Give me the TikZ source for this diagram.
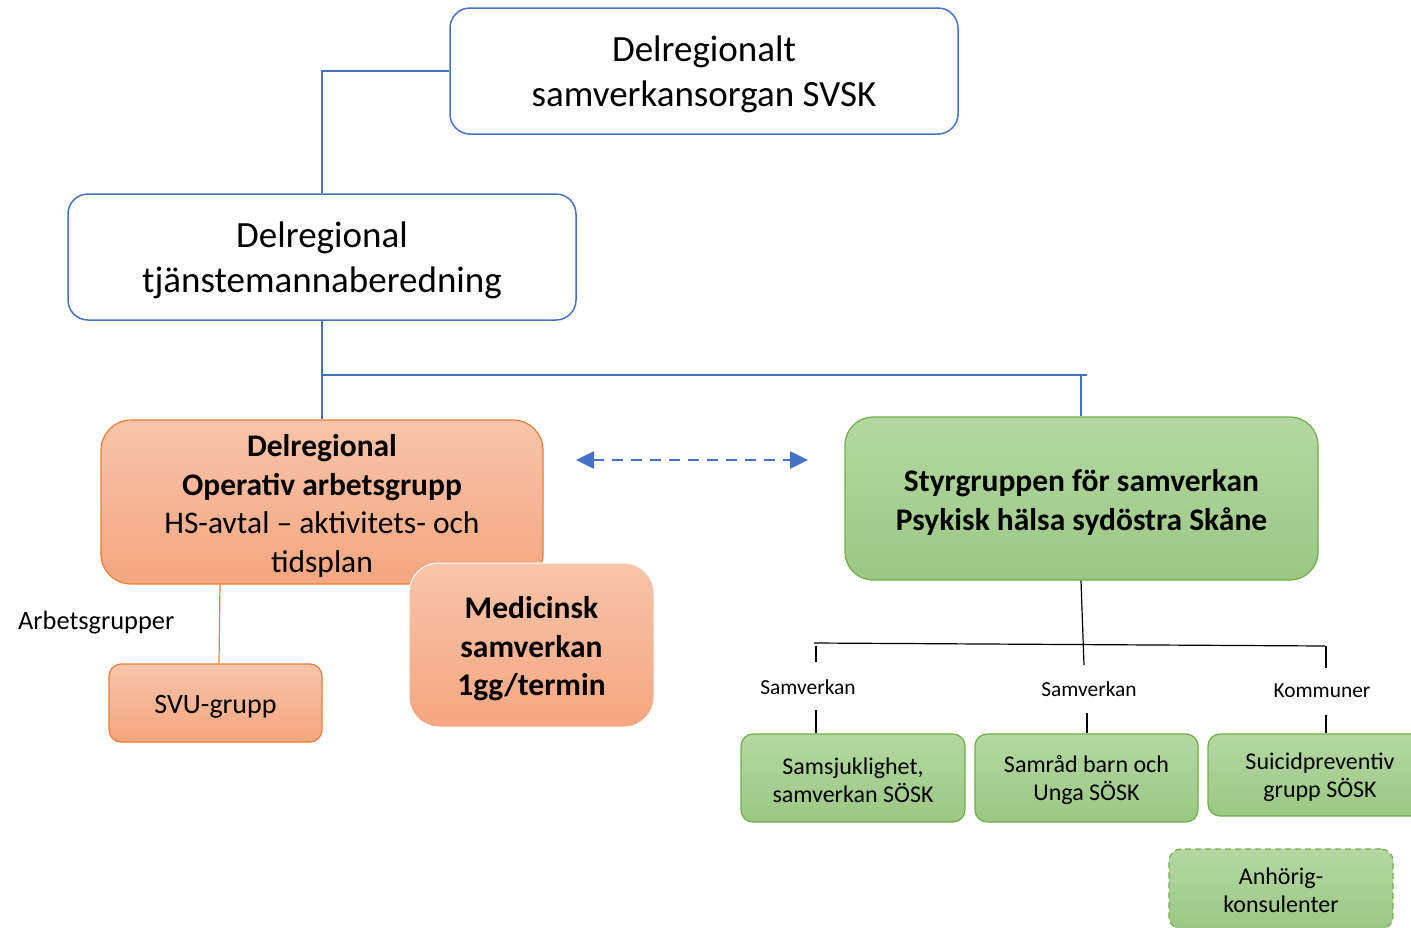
\documentclass[tikz,border=0pt]{standalone}
\usepackage{fontspec}
\setmainfont{Carlito}
\usetikzlibrary{arrows.meta}
\definecolor{blueline}{HTML}{4472C4}
\definecolor{orangeline}{HTML}{ED7D31}
\definecolor{orangetop}{HTML}{F7C4AA}
\definecolor{orangebot}{HTML}{F4A680}
\definecolor{greenline}{HTML}{70AD47}
\definecolor{greentop}{HTML}{B5D7A3}
\definecolor{greenbot}{HTML}{9AC883}
\begin{document}
\begin{tikzpicture}[x=1pt,y=-1pt,
  bluebox/.style={draw=blueline, line width=1.5pt, fill=white, rounded corners=20pt, inner sep=0pt},
  orangebox/.style={draw=orangeline, line width=1.2pt, top color=orangetop, bottom color=orangebot,
    rounded corners=30pt, inner sep=0pt},
  greenbox/.style={draw=greenline, line width=1.2pt, top color=greentop, bottom color=greenbot,
    rounded corners=28pt, inner sep=0pt},
  smallgreen/.style={draw=greenline, line width=1.2pt, top color=greentop, bottom color=greenbot,
    rounded corners=12pt, inner sep=0pt, minimum width=224pt, minimum height=88pt},
  bigtext/.style={inner sep=0pt, align=center, font=\fontsize{37}{45}\selectfont},
  midtext/.style={inner sep=0pt, align=center, font=\fontsize{31.5}{38.5}\selectfont},
  smalltext/.style={inner sep=0pt, align=center, font=\fontsize{24}{28}\selectfont},
  blueconn/.style={draw=blueline, line width=1.3pt},
  blackconn/.style={draw=black, line width=1.2pt},
  tinylabel/.style={inner sep=0pt, font=\fontsize{21.4}{26}\selectfont}
]
\useasboundingbox (0,0) rectangle (1411,927);

% top level bodies
\node[bluebox, minimum width=508pt, minimum height=126pt] (svsk) at (704,71) {};
\node[bigtext] (svsk-t) at (704,74) {Delregionalt\\samverkansorgan SVSK};
\node[bluebox, minimum width=508pt, minimum height=126pt] (tjan) at (322,257) {};
\node[bigtext] (tjan-t) at (322,260) {Delregional\\tjänstemannaberedning};

% operative level
\node[orangebox, minimum width=442pt, minimum height=164pt] (opgr) at (322,502) {};
\node[midtext] (opgr-t) at (322,506)
  {\textbf{Delregional}\\\textbf{Operativ arbetsgrupp}\\HS-avtal – aktivitets- och\\tidsplan};
\node[orangebox, draw=white, line width=1pt, minimum width=245pt, minimum height=164pt] (med) at (531.5,645) {};
\node[midtext] (med-t) at (531.5,649) {\textbf{Medicinsk}\\\textbf{samverkan}\\\textbf{1gg/termin}};
\node[orangebox, rounded corners=12pt, minimum width=213pt, minimum height=78pt] (svu) at (215.5,703) {};
\node[inner sep=0pt, font=\fontsize{28}{34}\selectfont] (svu-t) at (215.5,707) {SVU-grupp};
\node[anchor=west, inner sep=0pt, font=\fontsize{26.4}{32}\selectfont] (arb) at (18,623) {Arbetsgrupper};

\node[greenbox, minimum width=473pt, minimum height=163pt] (styr) at (1081.5,498.5) {};
\node[midtext, font=\fontsize{31.5}{39}\selectfont] (styr-t) at (1081.5,502)
  {\textbf{Styrgruppen för samverkan}\\\textbf{Psykisk hälsa sydöstra Skåne}};

% working groups under the steering group
\node[smallgreen] (sams) at (853,778) {};
\node[smalltext] (sams-t) at (853,780) {Samsjuklighet,\\samverkan SÖSK};
\node[smallgreen, minimum width=223pt] (samr) at (1086.5,778) {};
\node[smalltext] (samr-t) at (1086.5,780) {Samråd barn och\\Unga SÖSK};
\node[smallgreen, minimum height=82pt] (suic) at (1320,775) {};
\node[smalltext] (suic-t) at (1320,777) {Suicidpreventiv\\grupp SÖSK};
\node[smallgreen, dashed, dash pattern=on 6pt off 4pt, minimum height=80pt] (anh) at (1281,889) {};
\node[smalltext] (anh-t) at (1281,890) {Anhörig-\\konsulenter};

% labels on the branches
\node[tinylabel] (lab1) at (808,687) {Samverkan};
\node[tinylabel] (lab2) at (1089,689) {Samverkan};
\node[tinylabel] (lab3) at (1322,691) {Kommuner};

% blue tree
\draw[blueconn, line width=2.2pt] (svsk.west) -| (tjan.north);
\coordinate (fork) at (322,375);
\coordinate (forkend) at (1087,375);
\draw[blueconn] (tjan.south) -- (opgr.north);
\draw[blueconn] (fork) -- (forkend);
\draw[blueconn] (1081,375) -- (styr.north -| 1081,0);

% operative group to SVU
\draw[draw=orangeline, line width=1.2pt] (220,584) -- (svu.north -| 219,0);

% two-way link between the groups
\coordinate (dl) at (576,460);
\coordinate (dr) at (808,460);
\draw[draw=blueline, line width=2.6pt, dash pattern=on 11pt off 8pt,
  {Triangle[length=18pt,width=17pt]}-{Triangle[length=18pt,width=17pt]}] (dl) -- (dr);

% black branches
\coordinate (bus) at (1084,665);
\coordinate (busl) at (814,643);
\coordinate (busr) at (1325,646);
\draw[blackconn] (styr.south -| 1081,0) -- (bus);
\draw[blackconn] (busl) -- (busr);
\draw[blackconn, line width=1.4pt] (816,646) -- (816,662);
\draw[blackconn, line width=1.4pt] (1326,646) -- (1326,668);
\draw[blackconn, line width=1.4pt] (816,710) -- (sams.north -| 816,0);
\draw[blackconn, line width=1.4pt] (1087,713) -- (samr.north -| 1087,0);
\draw[blackconn, line width=1.4pt] (1326,715) -- (suic.north -| 1326,0);
\end{tikzpicture}
\end{document}
